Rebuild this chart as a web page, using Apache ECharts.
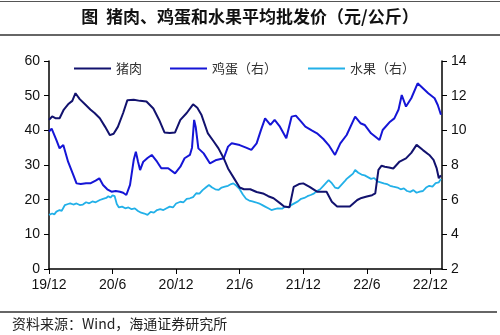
<!DOCTYPE html>
<html><head><meta charset="utf-8">
<script src="https://cdn.jsdelivr.net/npm/echarts@6/dist/echarts.min.js"></script>
<style>html,body{margin:0;padding:0;background:#fff}#c{width:500px;height:335px}</style>
</head><body><div id="c"></div>
<script>
// x values are months since 2019/12
var xTickLabels = {0:'19/12',6:'20/6',12:'20/12',18:'21/6',24:'21/12',30:'22/6',36:'22/12'};
var seriesNames = ['猪肉','鸡蛋（右）','水果（右）'];

var porkMonths = [0,0.3,0.6,1.0,1.4,1.8,2.2,2.5,2.9,3.4,3.9,4.3,4.8,5.3,5.75,6.1,6.5,7.0,7.4,8.0,8.6,9.2,9.85,10.4,10.9,11.4,11.9,12.4,13.0,13.6,14.0,14.4,15.0,15.5,16.0,16.5,16.9,17.5,18.0,18.4,19.0,19.6,20.2,20.7,21.2,21.8,22.2,22.7,23.1,23.6,24.0,24.6,25.3,25.8,26.2,26.7,27.2,27.8,28.4,29.1,29.5,30.0,30.5,30.8,31.1,31.4,31.7,32.1,32.5,33.1,33.7,34.2,34.7,35.3,35.9,36.3,36.6,36.8,37.0];
var porkValues = [43,44,43.5,43.5,46,47.5,48.5,50.7,49,47.5,46,45,43.5,41,38.6,39,41,45,48.7,48.8,48.5,48.3,46.3,43,39.4,39.2,39.4,43,45,47.5,46.5,44.4,39.1,37,34.8,31.9,29,26,23.5,23,23,22.2,21.8,21,20.4,19,18,17.8,23.7,24.5,24.7,23.7,22.3,22.3,22.3,19.4,18,18,18,19.9,20.5,20.9,21.3,21.8,28.6,29.8,29.5,29.3,29,31,31.9,33.5,35.8,34.3,32.9,31.5,29,26.2,27];

var eggMonths = [0,0.25,0.7,1.0,1.35,1.8,2.3,2.6,3.0,3.5,3.9,4.4,4.75,5.1,5.5,5.9,6.3,6.7,7.0,7.3,7.65,8.0,8.2,8.4,8.6,8.9,9.3,9.7,10.2,10.6,11.25,11.9,12.4,12.8,13.3,13.5,13.7,13.85,14.1,14.6,15.2,15.8,16.5,16.9,17.25,18,18.6,19.1,19.6,20.0,20.4,20.9,21.3,21.8,22.4,22.9,23.3,23.8,24.2,24.8,25.3,25.9,26.4,27,27.5,28.1,28.9,29.4,29.8,30.4,31.2,31.5,32.2,32.6,33.0,33.3,33.7,34.2,34.8,35.3,35.8,36.4,36.7,37.0];
var eggValues = [9.92,10.1,9.44,8.96,9.15,8.19,7.42,6.94,6.9,6.95,6.94,7.1,7.23,6.85,6.6,6.46,6.5,6.46,6.4,6.27,6.85,8.3,8.77,8.2,7.71,8.19,8.4,8.58,8.19,7.81,7.81,7.52,7.9,8.39,8.58,9.0,10.6,10.2,8.96,8.67,8.09,8.29,8.39,9.06,9.25,9.15,9.0,8.87,9.25,10.0,10.69,10.31,10.6,10.21,9.54,10.79,10.85,10.5,10.21,10.0,9.83,9.5,9.15,8.58,9.25,9.73,10.79,10.41,10.31,9.83,9.44,10.02,10.5,10.69,11.2,12.04,11.37,11.85,12.71,12.43,12.14,11.85,11.46,10.9];

var fruitMonths = [0,0.3,0.5,0.7,1.0,1.2,1.5,1.8,2.0,2.3,2.6,2.9,3.2,3.5,3.8,4.1,4.4,4.8,5.1,5.4,5.6,5.8,6.0,6.2,6.4,6.6,6.9,7.2,7.5,7.8,8.1,8.4,8.7,9.0,9.3,9.6,9.9,10.2,10.5,10.8,11.1,11.4,11.7,12.0,12.4,12.7,13.0,13.3,13.6,13.9,14.2,14.5,14.8,15.1,15.4,15.7,16.0,16.3,16.6,16.9,17.2,17.4,17.7,18.0,18.3,18.6,18.9,19.2,19.5,19.8,20.1,20.4,20.7,21.0,21.3,21.6,22.0,22.3,22.6,22.9,23.2,23.5,23.8,24.1,24.4,24.7,25.0,25.3,25.6,25.9,26.2,26.4,26.7,27.0,27.3,27.6,27.9,28.1,28.4,28.7,28.9,29.2,29.5,29.8,30.1,30.4,30.7,31.0,31.3,31.6,31.9,32.2,32.5,32.9,33.2,33.5,33.8,34.1,34.4,34.7,35.0,35.3,35.6,35.9,36.2,36.5,36.8,37.0];
var fruitValues = [5.12,5.2,5.15,5.31,5.4,5.35,5.69,5.75,5.79,5.72,5.78,5.69,5.72,5.85,5.79,5.9,5.85,5.98,6.05,6.1,6.2,6.12,6.25,6.2,5.75,5.55,5.6,5.5,5.55,5.45,5.5,5.35,5.25,5.2,5.12,5.3,5.25,5.4,5.45,5.4,5.5,5.6,5.55,5.78,5.88,5.85,6.05,6.08,6.15,6.37,6.35,6.55,6.7,6.85,6.7,6.6,6.56,6.7,6.75,6.8,6.9,6.94,6.8,6.6,6.3,6.05,5.95,5.9,5.85,5.79,5.7,5.6,5.5,5.4,5.45,5.5,5.48,5.6,5.55,5.7,5.8,5.9,6.05,6.1,6.2,6.27,6.35,6.5,6.6,6.8,7.0,7.13,6.95,6.7,6.65,6.85,7.05,7.2,7.35,7.5,7.71,7.55,7.45,7.4,7.3,7.2,7.25,7.05,7.0,6.94,6.9,6.8,6.75,6.7,6.6,6.65,6.5,6.45,6.55,6.4,6.46,6.5,6.7,6.8,6.75,6.95,7.0,7.2];

function pairs(xs, ys){ return xs.map(function(x,i){ return [x, ys[i]]; }); }

var colors = ['#12126e','#1515d6','#22b0e8'];
var axisFont = {fontFamily:'Liberation Sans, Arial', fontSize:14, color:'#111'};
var chart = echarts.init(document.getElementById('c'), null, {renderer:'canvas'});
var legendBase = {top:57, itemWidth:37, itemHeight:2, icon:'rect', itemGap:5,
  textStyle:{fontFamily:'Noto Sans CJK SC', fontSize:13, color:'#333'}};
chart.setOption({
  animation:false,
  color: colors,
  grid:{left:49, right:58, top:61, bottom:66},
  legend:[
    Object.assign({left:69, data:[seriesNames[0]]}, legendBase),
    Object.assign({left:165, data:[seriesNames[1]]}, legendBase),
    Object.assign({left:303, data:[seriesNames[2]]}, legendBase)
  ],
  xAxis:{type:'value', min:0, max:37.1, interval:6,
    axisLine:{lineStyle:{color:'#000', width:1.5}},
    axisTick:{show:true, length:5, lineStyle:{color:'#000'}},
    splitLine:{show:false},
    axisLabel:Object.assign({margin:9, showMaxLabel:false, formatter:function(v){ return xTickLabels[v] || ''; }}, axisFont)},
  yAxis:[
    {type:'value', min:0, max:60, interval:10, position:'left',
     axisLine:{show:true, lineStyle:{color:'#000', width:1.5}},
     axisTick:{show:true, length:5, lineStyle:{color:'#000'}},
     splitLine:{show:false}, axisLabel:Object.assign({margin:9}, axisFont)},
    {type:'value', min:2, max:14, interval:2, position:'right',
     axisLine:{show:true, lineStyle:{color:'#000', width:1.5}},
     axisTick:{show:true, length:5, lineStyle:{color:'#000'}},
     splitLine:{show:false}, axisLabel:Object.assign({margin:9}, axisFont)}
  ],
  series:[
    {name:seriesNames[0], type:'line', yAxisIndex:0, data:pairs(porkMonths, porkValues), showSymbol:false, symbol:'none', lineStyle:{width:2}, z:3},
    {name:seriesNames[1], type:'line', yAxisIndex:1, data:pairs(eggMonths, eggValues), showSymbol:false, symbol:'none', lineStyle:{width:2}, z:2},
    {name:seriesNames[2], type:'line', yAxisIndex:1, data:pairs(fruitMonths, fruitValues), showSymbol:false, symbol:'none', lineStyle:{width:1.8}, z:1}
  ],
  graphic:[
    {type:'rect', shape:{x:0,y:1,width:500,height:1}, style:{fill:'#555'}},
    {type:'text', left:'center', top:8, style:{text:'图  猪肉、鸡蛋和水果平均批发价（元/公斤）', font:'bold 17px "Noto Sans CJK SC"', fill:'#111'}},
    {type:'rect', shape:{x:0,y:34,width:500,height:2}, style:{fill:'#666'}},
    {type:'rect', shape:{x:0,y:311,width:497,height:2}, style:{fill:'#666'}},
    {type:'text', left:12, top:317, style:{text:'资料来源：Wind，海通证券研究所', font:'14px "Noto Sans CJK SC"', fill:'#222'}}
  ]
});
</script></body></html>
